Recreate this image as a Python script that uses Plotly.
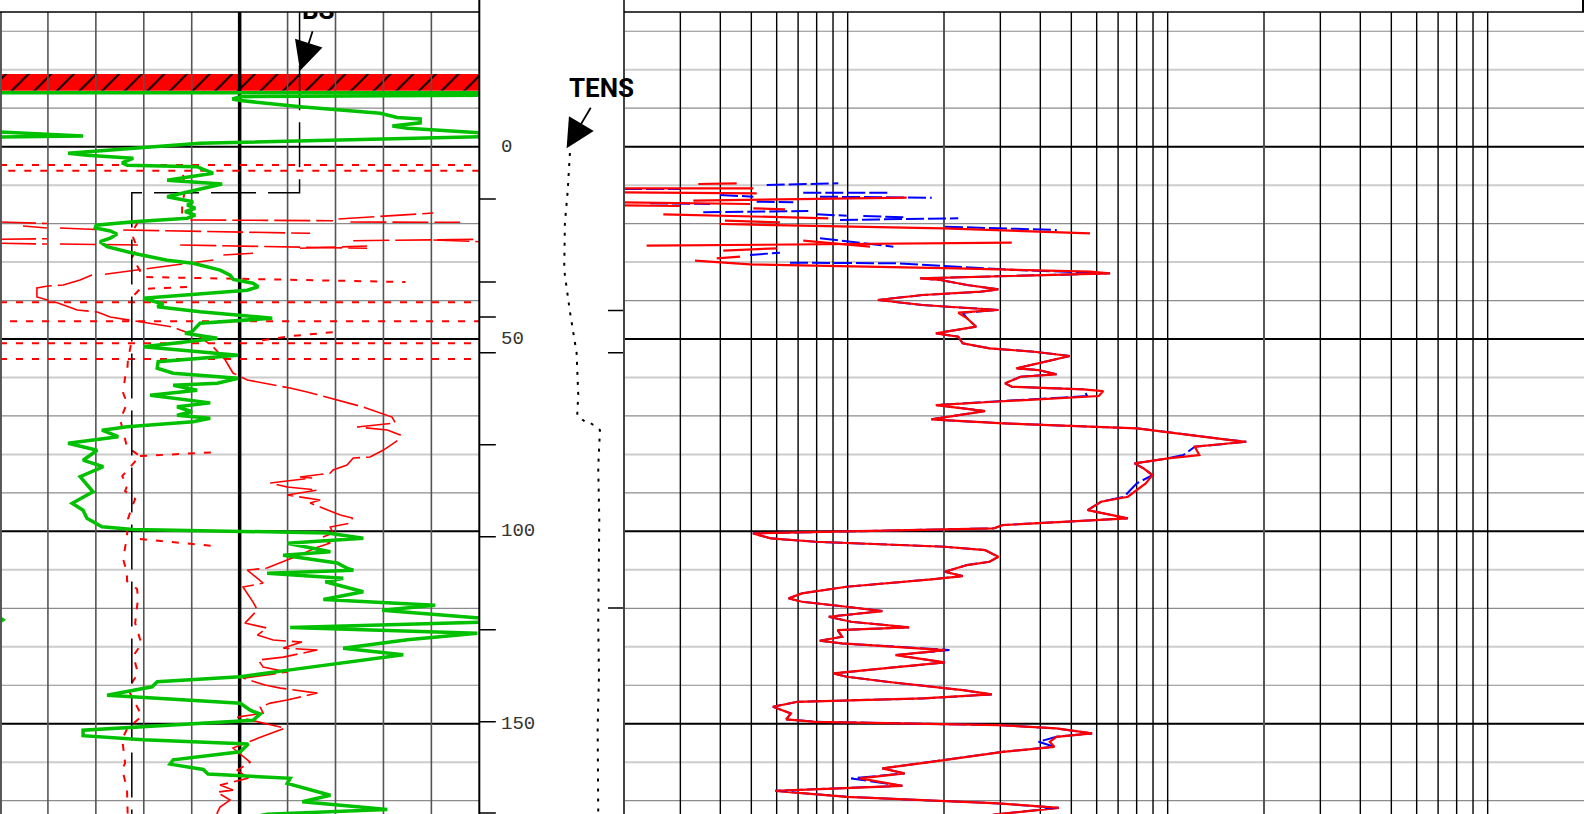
import plotly.graph_objects as go

# ---------------- DATA ----------------
# depth grid (ft)
depth_major = [0, 50, 100, 150]
depth_minor_dark = [-30, -10, 20, 40, 70, 90, 120, 140, 170]
depth_minor_light = [-20, 10, 30, 60, 80, 110, 130, 160]
depth_labels = [0, 50, 100, 150]
depth_ticks_left = [13.6, 35.2, 44.3, 53.6, 77.5, 101.4, 125.6, 149.5, 173.2]
depth_ticks_right = [42.6, 53.6, 119.9]

# left track grid, caliper scale 6-16 in
cal_grid = [7, 8, 9, 10, 12, 13, 14, 15]
cal_center = [11]
# right track grid, resistivity 1-1000 ohm.m (log)
res_grid = [1.5, 2, 2.5, 3, 3.5, 4, 4.5, 5, 15, 20, 25, 30, 35, 40, 45, 50,
            150, 200, 250, 300, 350, 400, 450, 500]
res_decades = [10, 100]

# hatched interval (depth top / bottom)
band_top, band_bottom = -18.9, -14.56

# GR (0-150 API) segments: (value, depth)
GREEN = [
    [(0, -14.04), (150, -14.04)],
    [(150, -13.4), (75.2, -13.0), (72.7, -12.4), (75.2, -12.0), (94.0, -10.4), (119.0, -8.7),
     (124.3, -7.6), (131.5, -7.2), (131.5, -6.2), (122.8, -5.4), (127.5, -4.8), (150, -3.6)],
    [(0, -3.8), (26, -2.8), (0, -2.5)],
    [(150, -2.6), (75.2, -1.3), (62.6, -0.9), (21.3, 1.7), (27.2, 2.2), (41.7, 3.0), (38.2, 4.2),
     (39.8, 4.8), (61.7, 5.2), (63.6, 5.9), (66.7, 6.9), (52.3, 8.7), (58.6, 9.1), (69.5, 9.7),
     (52.3, 13.0), (60.4, 14.3), (58.6, 15.2), (61.1, 16.0), (57.9, 16.9), (61.1, 17.8), (58.6, 18.6),
     (41.7, 19.5), (30.1, 20.4), (29.8, 21.1), (34.5, 21.9), (36.6, 22.7), (34.5, 23.8), (31.3, 24.7),
     (33.5, 26.0), (41.7, 27.7), (52.3, 29.5), (60.4, 30.3), (68.9, 32.1), (72.0, 33.4), (73.0, 34.5),
     (79.2, 35.5), (80.8, 36.4), (77.4, 37.3), (44.8, 39.4), (51.1, 40.9), (49.2, 41.6), (62.6, 42.9),
     (85.2, 44.6), (62.6, 45.9), (60.1, 48.1), (57.9, 48.5), (68.0, 49.8), (58.6, 50.7), (44.8, 52.0),
     (74.5, 54.2), (49.5, 55.9), (49.2, 57.6), (54.2, 58.9), (74.5, 60.2), (68.0, 61.5), (54.2, 62.0),
     (61.7, 63.3), (47.0, 64.6), (65.8, 66.6), (55.4, 67.6), (60.1, 68.9), (55.4, 69.8), (65.8, 70.6),
     (60.4, 71.5), (39.8, 72.8), (31.9, 73.7), (37.0, 75.4), (21.3, 77.1), (30.4, 78.9), (26.0, 81.5),
     (32.3, 83.2), (25.1, 85.8), (29.1, 89.7), (22.6, 92.7), (26.0, 94.5), (27.2, 96.6), (31.9, 98.8),
     (41.7, 99.5), (75.2, 100.1), (102.4, 100.4), (113.7, 101.8), (89.9, 103.1), (103.4, 105.3),
     (88.6, 106.2), (105.5, 108.2), (108.7, 109.6), (110.6, 110.1), (83.6, 110.9), (107.4, 112.2),
     (101.8, 113.1), (113.7, 115.7), (101.2, 117.7), (136.2, 119.2), (119.6, 120.5), (150, 122.5)],
    [(0, 122.5), (0.9, 123.0), (0, 123.5)],
    [(150, 123.6), (90.8, 125.0), (149.4, 126.5), (127.5, 128.2), (107.4, 130.4), (126.2, 132.1),
     (90.8, 136.0), (75.2, 137.8), (49.2, 139.1), (47.6, 140.4), (33.5, 142.6), (75.2, 144.7),
     (78.3, 146.5), (81.4, 147.5), (79.2, 149.1), (26.0, 151.7), (26.0, 153.1), (44.8, 154.2),
     (77.7, 155.3), (75.2, 157.3), (54.2, 159.4), (53.2, 160.5), (63.6, 161.9), (65.1, 163.1),
     (90.8, 164.2), (89.9, 165.5), (103.4, 168.6), (94.6, 170.3), (121.2, 172.3), (83.6, 173.5),
     (75.0, 175.0)],
]

# caliper 1 (dotted), inches
CAL_DOTTED = [
    [(6, 4.76), (16, 4.76)],
    [(16, 6.24), (6, 6.24)],
    [(9.82, 7.36), (9.86, 11.26), (9.80, 15.16), (9.80, 17.76)],
    [(8.88, 19.58), (8.78, 21.66), (8.78, 23.74), (8.86, 26.08), (8.76, 28.68), (8.88, 31.54),
     (8.99, 33.88), (11.22, 34.40), (14.46, 35.18)],
    [(9.90, 36.48), (8.92, 37.0), (8.78, 38.82)],
    [(6, 40.46), (16, 40.46)],
    [(6.21, 45.36), (16, 45.36)],
    [(11.47, 50.3), (12.05, 49.26), (12.95, 48.22)],
    [(6, 51.12), (16, 51.12)],
    [(6, 55.2), (16, 55.2)],
    [(8.92, 80.42), (10.55, 79.38)],
    [(8.92, 102.0), (10.49, 103.82)],
    [(8.73, 51.56), (8.67, 55.46), (8.65, 58.84), (8.61, 59.88), (8.57, 64.04), (8.65, 66.64),
     (8.51, 71.06), (8.61, 76.26), (8.65, 78.08), (8.92, 80.42), (8.55, 85.62), (8.65, 88.22),
     (8.61, 89.52), (8.82, 91.6), (8.76, 93.42), (8.67, 96.8), (8.65, 101.22), (8.57, 107.2),
     (8.65, 110.84), (8.65, 112.92), (8.86, 115.0), (8.88, 117.34), (8.82, 123.84), (8.92, 128.0),
     (8.96, 129.04), (8.78, 132.42), (8.88, 136.84), (8.67, 141.0), (8.96, 148.02), (8.65, 151.4),
     (8.55, 154.0), (8.61, 160.24), (8.55, 161.8), (8.65, 167.0), (8.67, 174.02), (8.67, 176.6)],
]

# caliper 2 (long dash), inches
CAL_DASHED = [
    [(6.0, 19.58), (6.98, 19.97)],
    [(6.48, 20.62), (6.98, 21.14)],
    [(7.25, 21.14), (8.30, 21.66)],
    [(8.57, 21.66), (12.47, 22.52)],
    [(9.97, 19.06), (12.95, 19.24)],
    [(13.06, 18.80), (15.04, 17.24)],
    [(13.31, 19.58), (15.60, 19.66)],
    [(6.0, 24.08), (6.98, 23.92)],
    [(6.0, 25.12), (6.98, 25.30)],
    [(7.25, 25.30), (8.99, 25.56)],
    [(13.37, 24.44), (16.02, 24.08)],
    [(15.04, 24.26), (16.02, 24.70)],
    [(9.76, 25.56), (13.66, 26.42)],
    [(12.26, 26.42), (13.66, 25.82)],
    [(10.66, 28.16), (11.28, 27.72)],
    [(8.19, 33.14), (10.45, 29.46)],
    [(7.92, 33.36), (7.67, 34.66), (7.32, 35.96), (7.0, 36.22), (6.77, 36.74), (6.77, 37.78),
     (6.77, 39.08), (7.21, 40.64), (7.46, 41.68), (7.61, 42.46), (8.03, 42.98), (8.30, 44.28),
     (9.61, 46.88), (9.76, 47.66), (10.18, 49.48), (10.45, 52.08), (10.70, 55.46), (10.86, 58.84),
     (11.16, 60.66), (12.05, 62.74), (12.41, 63.78), (13.31, 66.64), (13.58, 67.68), (14.18, 70.28),
     (14.25, 71.84), (13.45, 72.88), (14.08, 73.66), (14.35, 74.96), (14.31, 76.26), (14.0, 78.86),
     (13.72, 80.68), (13.37, 80.94), (13.24, 82.76), (12.95, 84.06), (12.89, 84.84), (12.26, 85.88),
     (12.51, 86.14), (11.64, 87.44), (11.99, 88.48), (12.62, 89.26), (11.99, 90.56), (12.68, 91.86),
     (12.47, 92.64), (12.68, 93.68), (12.95, 94.98), (13.10, 95.76), (13.35, 96.54), (13.31, 97.84),
     (12.89, 98.88), (12.95, 100.44), (12.68, 101.74), (12.89, 103.04), (12.58, 104.34),
     (12.26, 106.16), (11.99, 107.46), (11.57, 109.54), (11.16, 110.06), (11.49, 113.44),
     (11.07, 114.48), (11.28, 118.38), (11.37, 120.46), (11.11, 123.84), (11.57, 125.14),
     (11.37, 126.96), (11.70, 128.26), (12.30, 128.78), (11.91, 130.34), (12.62, 130.86),
     (11.91, 132.68), (11.39, 133.46), (11.49, 135.28), (11.99, 136.58), (11.07, 138.14),
     (11.53, 139.96), (11.85, 140.74), (12.62, 142.04), (11.99, 143.86), (11.64, 144.64),
     (11.43, 145.68), (11.49, 147.24), (10.95, 148.28), (11.70, 150.36), (11.95, 151.14),
     (11.39, 153.74), (10.86, 156.34), (11.22, 159.98), (10.95, 162.06), (11.18, 164.14),
     (10.59, 165.96), (10.86, 167.26), (10.53, 167.78), (10.80, 169.86), (10.59, 171.68),
     (10.53, 173.24), (10.59, 175.06)],
]

# bit size, inches
BS = [[(12.25, -36.0), (12.25, 11.96), (8.75, 11.96), (8.75, 176.0)]]

# tension, lbf (0-5000 across depth track)
TENS = [[(3131, 1.64), (3052, 11.78), (2958, 19.84), (2934, 32.06), (3131, 42.85), (3363, 53.64),
         (3418, 64.45), (3384, 69.86), (3709, 71.84), (3848, 71.84), (4169, 73.66), (4110, 83.28),
         (4145, 96.8), (4135, 110.3), (4110, 123.8), (4135, 137.4), (4090, 150.9), (4110, 173.5)]]

# resistivity curves (ohm.m)
RES_RED = [
    [(1.0, 10.82), (2.536, 10.82)],
    [(1.707, 9.70), (2.250, 9.52)],
    [(1.0, 11.86), (2.598, 12.12)],
    [(1.0, 14.46), (2.476, 14.90)],
    [(1.0, 15.24), (1.496, 15.42)],
    [(1.647, 14.04), (7.645, 13.26)],
    [(2.536, 16.02), (3.185, 16.28)],
    [(1.327, 17.58), (4.349, 18.62)],
    [(2.068, 19.24), (3.072, 19.66)],
    [(1.995, 20.10), (9.950, 21.22), (28.59, 22.52)],
    [(1.177, 25.74), (16.28, 24.96)],
    [(3.633, 24.44), (5.872, 26.0)],
    [(2.043, 27.04), (3.001, 26.42)],
    [(1.949, 29.02), (2.304, 28.6)],
    [(1.667, 29.64), (2.476, 30.58), (10.96, 31.62), (28.59, 32.5), (33.03, 32.92),
     (8.414, 34.22), (9.745, 34.66), (11.81, 35.96), (14.79, 37.08), (13.01, 37.70), (8.567, 38.56),
     (6.216, 39.86), (8.567, 41.16), (14.79, 42.46), (11.08, 43.16), (11.81, 44.62), (12.60, 46.80),
     (9.435, 48.52), (11.08, 49.40), (11.44, 51.12), (13.87, 52.42), (19.12, 53.30), (24.73, 54.42),
     (21.76, 55.46), (16.82, 57.62), (19.75, 58.06), (22.46, 59.18), (17.36, 59.80), (15.52, 61.52),
     (16.29, 62.40), (27.23, 63.08), (31.45, 63.52), (30.46, 64.82), (14.32, 66.30), (9.435, 67.16),
     (13.43, 68.72), (9.134, 70.88), (15.28, 71.92), (40.05, 73.22), (78.60, 76.26), (87.99, 76.70),
     (60.78, 78.0), (62.78, 80.16), (50.12, 81.02), (39.41, 82.32), (42.02, 83.62), (44.81, 85.36),
     (42.69, 87.52), (37.56, 91.0), (30.97, 92.30), (28.13, 94.46), (37.56, 96.62), (15.28, 98.36),
     (14.32, 99.22), (2.528, 100.52), (2.873, 101.82), (3.964, 102.70), (10.06, 104.0),
     (13.43, 104.86), (14.79, 106.60), (13.87, 107.90), (11.81, 108.76), (10.06, 110.50),
     (11.44, 111.62), (9.134, 112.48), (4.961, 114.40), (3.599, 116.12), (3.269, 117.42),
     (3.599, 118.30), (4.961, 119.60), (6.417, 120.72), (4.365, 122.20), (5.126, 123.50),
     (7.778, 124.96), (4.653, 125.66), (4.803, 127.40), (4.091, 128.44), (4.803, 129.12),
     (10.06, 130.86), (7.064, 132.16), (10.06, 134.06), (4.505, 136.92), (4.961, 137.80),
     (6.629, 139.10), (11.44, 141.26), (14.10, 142.38), (8.567, 143.42), (3.484, 144.30),
     (2.920, 145.60), (3.321, 147.32), (3.215, 148.88), (3.964, 149.50), (14.79, 150.36),
     (22.46, 151.22), (29.03, 152.52), (22.46, 153.40), (21.40, 154.70), (22.11, 156.0),
     (15.28, 157.30), (9.134, 159.90), (6.417, 161.62), (7.532, 162.92), (5.464, 164.22),
     (7.413, 166.14), (2.969, 167.44), (4.961, 169.0), (14.79, 170.72), (22.83, 171.86),
     (14.79, 173.50), (10.0, 175.5)],
]

RES_BLUE = [
    [(1.0, 11.0), (1.5, 11.0)],
    [(2.792, 9.96), (4.674, 9.52)],
    [(1.995, 12.56), (2.536, 13.0)],
    [(3.633, 11.96), (6.783, 11.96)],
    [(4.097, 13.0), (9.155, 13.26)],
    [(2.598, 14.3), (3.381, 14.46)],
    [(1.206, 14.72), (1.857, 14.90)],
    [(1.769, 17.06), (3.766, 16.72)],
    [(4.001, 17.58), (4.965, 17.94)],
    [(4.732, 19.06), (11.08, 18.62)],
    [(5.595, 18.02), (7.645, 18.36)],
    [(10.07, 20.80), (22.51, 21.66)],
    [(4.097, 23.82), (6.945, 26.0)],
    [(2.476, 28.16), (3.072, 27.56)],
    [(3.302, 30.16), (7.115, 30.32), (15.32, 31.88), (16.87, 32.06), (33.03, 32.92),
     (8.414, 34.22), (9.745, 34.66), (11.81, 35.96), (14.79, 37.08), (13.01, 37.70), (8.567, 38.56),
     (6.216, 39.86), (8.567, 41.16), (14.79, 42.46), (11.44, 43.16), (11.81, 44.62), (12.60, 46.80),
     (9.435, 48.52), (11.08, 49.40), (11.44, 51.12), (13.87, 52.42), (19.12, 53.30), (24.73, 54.42),
     (21.76, 55.46), (16.82, 57.62), (19.75, 58.06), (22.46, 59.18), (17.36, 59.80), (15.52, 61.52),
     (16.29, 62.40), (27.23, 63.08), (27.5, 63.52), (28.0, 64.82), (14.0, 66.30), (9.435, 67.16),
     (13.43, 68.72), (9.134, 70.88), (15.28, 71.92), (40.05, 73.22), (78.60, 76.26), (87.99, 76.70),
     (60.78, 78.0), (56.0, 80.16), (50.12, 81.02), (39.41, 82.32), (42.02, 83.62), (44.81, 85.36),
     (40.05, 87.52), (36.5, 91.0), (30.97, 92.30), (28.13, 94.46), (37.56, 96.62), (15.28, 98.36),
     (14.32, 99.22), (2.528, 100.52), (2.873, 101.82), (3.964, 102.70), (10.06, 104.0),
     (13.43, 104.86), (14.79, 106.60), (13.87, 107.90), (11.81, 108.76), (10.06, 110.50),
     (11.44, 111.62), (9.134, 112.48), (4.961, 114.40), (3.599, 116.12), (3.269, 117.42),
     (3.599, 118.30), (4.961, 119.60), (6.417, 120.72), (4.365, 122.20), (5.126, 123.50),
     (7.778, 124.96), (4.653, 125.66), (4.803, 127.40), (4.091, 128.44), (4.803, 129.12),
     (10.4, 130.86), (7.064, 132.16), (10.06, 134.06), (4.505, 136.92), (4.961, 137.80),
     (6.629, 139.10), (11.44, 141.26), (14.10, 142.38), (8.567, 143.42), (3.484, 144.30),
     (2.920, 145.60), (3.321, 147.32), (3.215, 148.88), (3.964, 149.50), (14.79, 150.36),
     (22.46, 151.22), (29.03, 152.52), (22.46, 153.40), (19.75, 154.70), (22.11, 156.0),
     (15.28, 157.30), (9.134, 159.90), (6.417, 161.62), (7.532, 162.92), (5.126, 164.22),
     (7.413, 166.14), (2.969, 167.44), (4.961, 169.0), (14.79, 170.72), (22.83, 171.86),
     (14.79, 173.50), (10.0, 175.5)],
]

# ---------------- STYLE / GEOMETRY ----------------
W, H = 1584, 814
X_LEFT_END = 479.3 / W
X_RIGHT_START = 624.0 / W
Y_TOP = 1 - 12.0 / H
BOLDFONT = "Roboto, Liberation Sans, Arial, sans-serif"


def seg_xy(segments):
    xs, ys = [], []
    for seg in segments:
        for v, d in seg:
            xs.append(v)
            ys.append(d)
        xs.append(None)
        ys.append(None)
    return xs, ys


def hlines(depths, xa, xb):
    return seg_xy([[(xa, d), (xb, d)] for d in depths])


def vlines(vals, d0=-36.0, d1=176.0):
    return seg_xy([[(v, d0), (v, d1)] for v in vals])


def line_trace(xy, xaxis, color, width, dash="solid"):
    xs, ys = xy
    return go.Scatter(x=xs, y=ys, mode="lines", xaxis=xaxis, yaxis="y",
                      line=dict(color=color, width=width, dash=dash),
                      hoverinfo="skip", showlegend=False)


fig = go.Figure()

# hatched interval
fig.add_trace(go.Bar(
    orientation="h", y=[(band_top + band_bottom) / 2], x=[16 - 6], base=[6],
    width=[band_bottom - band_top], xaxis="x", yaxis="y",
    marker=dict(color="#ff0000", line=dict(width=0),
                pattern=dict(shape="/", fgcolor="black", bgcolor="#ff0000",
                             size=16, solidity=0.12, fillmode="replace")),
    hoverinfo="skip", showlegend=False))

# horizontal grid, left and right tracks
for depths, col, wd in [(depth_minor_light, "#cccccc", 2.0),
                        (depth_minor_dark, "#8c8c8c", 1.2),
                        (depth_major, "#000000", 2.0)]:
    fig.add_trace(line_trace(hlines(depths, 6, 16), "x", col, wd))
    fig.add_trace(line_trace(hlines(depths, 1, 1000), "x3", col, wd))

# vertical grid
fig.add_trace(line_trace(vlines(cal_grid), "x", "#555555", 1.6))
fig.add_trace(line_trace(vlines(cal_center), "x", "#000000", 3.5))
fig.add_trace(line_trace(vlines(res_grid), "x3", "#000000", 1.4))
fig.add_trace(line_trace(vlines(res_decades), "x3", "#555555", 2.0))

# depth track ticks
fig.add_trace(line_trace(seg_xy([[(0, d), (571, d)] for d in depth_ticks_left]), "x2", "#000000", 1.5))
fig.add_trace(line_trace(seg_xy([[(4446, d), (5000, d)] for d in depth_ticks_right]), "x2", "#000000", 1.5))

# curves, left track
fig.add_trace(line_trace(seg_xy(CAL_DOTTED), "x", "#ff0000", 2.0, "7px,9px"))
fig.add_trace(line_trace(seg_xy(CAL_DASHED), "x", "#ff0000", 1.6, "36px,6px"))
fig.add_trace(line_trace(seg_xy(BS), "x", "#000000", 1.5, "45px,12px"))
fig.add_trace(line_trace(seg_xy(GREEN), "x4", "#00c000", 3.5))

# tension in depth track
fig.add_trace(line_trace(seg_xy(TENS), "x2", "#000000", 2.0, "3px,7px"))

# resistivity
fig.add_trace(line_trace(seg_xy(RES_BLUE), "x3", "#0000ff", 2.0, "18px,4px"))
fig.add_trace(line_trace(seg_xy(RES_RED), "x3", "#ff0000", 2.2))

# BS label (clipped at top of plot area, as in the log header)
fig.add_trace(go.Scatter(x=[12.64], y=[-34.97], mode="text", text=["BS"],
                         textposition="middle center", xaxis="x", yaxis="y",
                         textfont=dict(family=BOLDFONT, size=26, color="black", weight="bold"),
                         cliponaxis=True, hoverinfo="skip", showlegend=False))

annotations = [
    dict(xref="x2", yref="y", x=4239, y=-15.3, text="TENS", showarrow=False,
         font=dict(family=BOLDFONT, size=26, color="black", weight="bold")),
    dict(xref="x2", yref="y", x=3017, y=0.42, ax=25, ay=-42, text="", showarrow=True,
         arrowhead=2, arrowsize=3.2, arrowwidth=1.8, arrowcolor="black", standoff=0),
    dict(xref="x", yref="y", x=12.26, y=-19.76, ax=13, ay=-41, text="", showarrow=True,
         arrowhead=2, arrowsize=3.2, arrowwidth=1.8, arrowcolor="black", standoff=0),
]
for d in depth_labels:
    annotations.append(dict(xref="x2", yref="y", x=675, y=d, text=str(d), showarrow=False,
                            xanchor="left", yanchor="middle",
                            font=dict(family="Liberation Mono, DejaVu Sans Mono, monospace",
                                      size=19, color="#333333")))

shapes = [
    dict(type="line", xref="paper", yref="paper", x0=X_LEFT_END, x1=X_LEFT_END, y0=0, y1=1,
         line=dict(color="black", width=2)),
    dict(type="line", xref="paper", yref="paper", x0=X_RIGHT_START, x1=X_RIGHT_START, y0=0, y1=1,
         line=dict(color="#444444", width=2)),
    dict(type="line", xref="paper", yref="paper", x0=0.0006, x1=0.0006, y0=0, y1=Y_TOP,
         line=dict(color="#555555", width=2)),
    dict(type="line", xref="paper", yref="paper", x0=0, x1=X_LEFT_END, y0=Y_TOP, y1=Y_TOP,
         line=dict(color="black", width=1.6)),
    dict(type="line", xref="paper", yref="paper", x0=X_RIGHT_START, x1=1, y0=Y_TOP, y1=Y_TOP,
         line=dict(color="black", width=1.6)),
    dict(type="line", xref="paper", yref="paper", x0=0.99937, x1=0.99937, y0=Y_TOP, y1=1,
         line=dict(color="black", width=2)),
]

fig.update_layout(
    width=W, height=H, margin=dict(l=0, r=0, t=0, b=0),
    paper_bgcolor="white", plot_bgcolor="white", showlegend=False, hovermode=False,
    xaxis=dict(domain=[0, X_LEFT_END], range=[6, 16], visible=False, anchor="y"),
    xaxis2=dict(domain=[X_LEFT_END, X_RIGHT_START], range=[0, 5000], visible=False, anchor="y"),
    xaxis3=dict(domain=[X_RIGHT_START, 1], type="log", range=[0, 3], visible=False, anchor="y"),
    xaxis4=dict(overlaying="x", range=[0, 150], visible=False, anchor="y"),
    yaxis=dict(domain=[0, Y_TOP], range=[173.47, -35.01], visible=False, anchor="x"),
    annotations=annotations, shapes=shapes,
)

fig.write_html("out.html", config={"displayModeBar": False},
               post_script="document.body.style.margin='0px';document.body.style.overflow='hidden';")
